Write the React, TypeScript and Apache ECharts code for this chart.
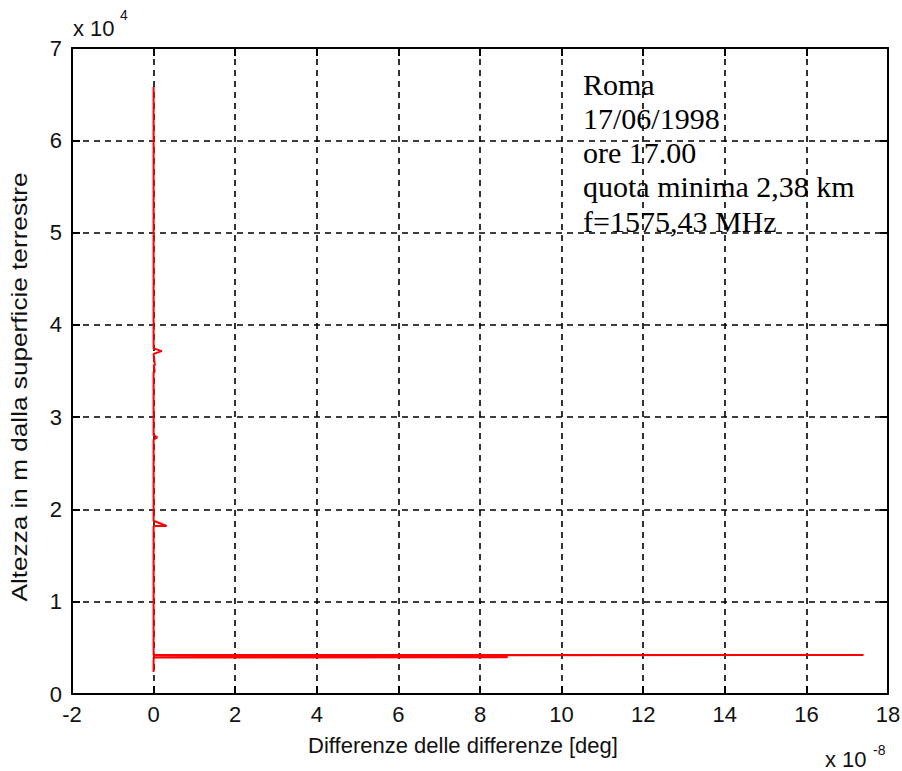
import React, { useEffect, useRef } from "react";
import * as echarts from "echarts";

// Profile: difference of differences (units of 1e-8 deg) vs altitude (m)
const altitudeM = [
  2380, 3950, 3980, 4200, 4220, 4230,
  18150, 18200, 18210, 18770,
  27550, 27800, 28050,
  34900, 34950, 35600, 35650,
  36850, 37150, 37450,
  65800,
];
const diffDeg = [
  0, 0, 8.68, 0, 17.4, 0,
  0, 0.03, 0.32, 0,
  0, 0.09, 0,
  0, 0.03, 0, 0.03,
  0, 0.2, 0,
  0,
];

const xTicks = [-2, 0, 2, 4, 6, 8, 10, 12, 14, 16, 18];
const yTicks = [0, 1, 2, 3, 4, 5, 6, 7]; // x 10^4 m

const infoLines = ["Roma", "17/06/1998", "ore 17.00", "quota minima 2,38 km", "f=1575,43 MHz"];

const xLabel = "Differenze delle differenze [deg]";
const yLabel = "Altezza in m dalla superficie terrestre";

export default function App() {
  const ref = useRef<HTMLDivElement>(null);
  useEffect(() => {
    if (!ref.current) return;
    const chart = echarts.init(ref.current, null, { renderer: "svg" });
    const sans = "'Liberation Sans', Arial, sans-serif";
    const serif = "'Liberation Serif', 'Times New Roman', serif";
    const data = altitudeM.map((h, i) => [diffDeg[i], h]);
    const axisLine = { show: true, onZero: false, lineStyle: { color: "#000", width: 2 } };
    const axisTick = { show: true, inside: true, length: 8, lineStyle: { color: "#000", width: 2 } };
    const split = { show: true, lineStyle: { color: "#000", width: 1.6, type: [6, 5] } };
    const xMin = xTicks[0], xMax = xTicks[xTicks.length - 1];
    const yMin = yTicks[0] * 1e4, yMax = yTicks[yTicks.length - 1] * 1e4;

    const graphics: any[] = [];
    infoLines.forEach((t, i) => {
      graphics.push({
        type: "text",
        x: 583,
        y: 84 + i * 34.3,
        style: { text: t, fontFamily: serif, fontSize: 30, fill: "#000", align: "left", verticalAlign: "middle", textAlign: "left", textVerticalAlign: "middle" },
        z: 10,
      });
    });
    graphics.push(
      { type: "text", x: 73, y: 28, style: { text: "x 10", fontFamily: sans, fontSize: 22, fill: "#111", align: "left", verticalAlign: "middle" } },
      { type: "text", x: 120, y: 15, style: { text: "4", fontFamily: sans, fontSize: 14, fill: "#111", align: "left", verticalAlign: "middle" } },
      { type: "text", x: 825, y: 759, style: { text: "x 10", fontFamily: sans, fontSize: 22, fill: "#111", align: "left", verticalAlign: "middle" } },
      { type: "text", x: 873, y: 750, style: { text: "-8", fontFamily: sans, fontSize: 14, fill: "#111", align: "left", verticalAlign: "middle" } },
      { type: "text", x: 463, y: 745, style: { text: xLabel, fontFamily: sans, fontSize: 22, fill: "#111", align: "center", verticalAlign: "middle" } },
      { type: "text", x: 19, y: 387, rotation: Math.PI / 2, scaleX: 1.19, style: { text: yLabel, fontFamily: sans, fontSize: 22, fill: "#111", align: "center", verticalAlign: "middle" } }
    );

    chart.setOption({
      animation: false,
      backgroundColor: "#fff",
      grid: { left: 72, right: 14, top: 48, bottom: 77, containLabel: false, outerBoundsMode: "none" },
      xAxis: [
        {
          type: "value", position: "bottom", min: xMin, max: xMax, interval: 2,
          axisLine, axisTick, splitLine: split,
          axisLabel: { show: true, margin: 9, fontFamily: sans, fontSize: 22, color: "#111", showMinLabel: true, showMaxLabel: true },
        },
        {
          type: "value", position: "top", min: xMin, max: xMax, interval: 2,
          axisLine, axisTick, splitLine: { show: false }, axisLabel: { show: false },
        },
      ],
      yAxis: [
        {
          type: "value", position: "left", min: yMin, max: yMax, interval: 1e4,
          axisLine, axisTick, splitLine: split,
          axisLabel: { show: true, margin: 10, fontFamily: sans, fontSize: 22, color: "#111", formatter: (v: number) => String(v / 1e4), showMinLabel: true, showMaxLabel: true },
        },
        {
          type: "value", position: "right", min: yMin, max: yMax, interval: 1e4,
          axisLine, axisTick, splitLine: { show: false }, axisLabel: { show: false },
        },
      ],
      series: [
        {
          type: "line", xAxisIndex: 0, yAxisIndex: 0, data, showSymbol: false, symbol: "none",
          lineStyle: { color: "#ff0000", width: 2, join: "bevel", miterLimit: 1, cap: "butt" }, z: 5,
        },
      ],
      graphic: graphics,
    });
    return () => chart.dispose();
  }, []);
  return <div ref={ref} style={{ position: "absolute", left: 0, top: 0, width: 902, height: 771, background: "#fff" }} />;
}
